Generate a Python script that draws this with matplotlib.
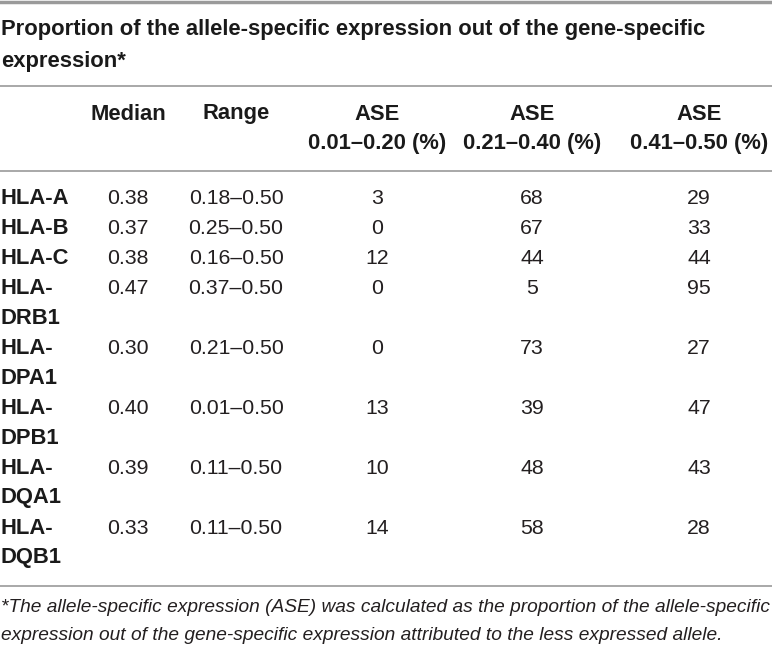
import matplotlib
matplotlib.use("Agg")
import matplotlib.pyplot as plt

FONT = "Liberation Sans"

title_lines = ["Proportion of the allele-specific expression out of the gene-specific",
               "expression*"]
col_headers = [["Median", ""], ["Range", ""], ["ASE", "0.01\u20130.20 (%)"],
               ["ASE", "0.21\u20130.40 (%)"], ["ASE", "0.41\u20130.50 (%)"]]
genes = [["HLA-A"], ["HLA-B"], ["HLA-C"], ["HLA-", "DRB1"], ["HLA-", "DPA1"],
         ["HLA-", "DPB1"], ["HLA-", "DQA1"], ["HLA-", "DQB1"]]
median = ["0.38", "0.37", "0.38", "0.47", "0.30", "0.40", "0.39", "0.33"]
ranges = ["0.18\u20130.50", "0.25\u20130.50", "0.16\u20130.50", "0.37\u20130.50",
          "0.21\u20130.50", "0.01\u20130.50", "0.11\u20130.50", "0.11\u20130.50"]
ase_low = [3, 0, 12, 0, 0, 13, 10, 14]
ase_mid = [68, 67, 44, 5, 73, 39, 48, 58]
ase_high = [29, 33, 44, 95, 27, 47, 43, 28]
footnote = ["*The allele-specific expression (ASE) was calculated as the proportion of the allele-specific",
            "expression out of the gene-specific expression attributed to the less expressed allele."]

W, H = 772, 647
fig = plt.figure(figsize=(W / 100, H / 100), dpi=100)
ax = fig.add_axes([0, 0, 1, 1])
ax.set_xlim(0, W)
ax.set_ylim(H, 0)
ax.axis("off")

TXT = "#231f20"
BOLD_TXT = "#1a1a1a"
LINE = "#9a9a9a"
FS_B = 15.8
FS_D = 15.3
FS_F = 13.8
LH = 30

ax.axhline(1.5, color=LINE, lw=2.5)
for y in (86, 171, 586):
    ax.axhline(y, color=LINE, lw=1.2)

for i, t in enumerate(title_lines):
    ax.text(1, 30 + i * 31, t, fontsize=FS_B, fontweight="bold", family=FONT,
            color=BOLD_TXT, va="center", ha="left")

col_x = [128, 236, 377, 532, 699]
for x, hdr in zip(col_x, col_headers):
    for j, t in enumerate(hdr):
        if t:
            ax.text(x, 114 + j * 29, t, fontsize=FS_B, fontweight="bold", family=FONT,
                    color=BOLD_TXT, va="center", ha="center")

y = 198
for k in range(len(genes)):
    for j, t in enumerate(genes[k]):
        ax.text(1, y + j * LH, t, fontsize=FS_B, fontweight="bold", family=FONT,
                color=BOLD_TXT, va="center", ha="left")
    vals = [median[k], ranges[k], str(ase_low[k]), str(ase_mid[k]), str(ase_high[k])]
    for x, v in zip(col_x, vals):
        ax.text(x, y, v, fontsize=FS_D, family=FONT, color=TXT, va="center", ha="center")
    y += LH * len(genes[k])

for i, t in enumerate(footnote):
    ax.text(1, 608 + i * 28, t, fontsize=FS_F, style="italic", family=FONT,
            color=TXT, va="center", ha="left")

fig.savefig("out.png", dpi=100)
